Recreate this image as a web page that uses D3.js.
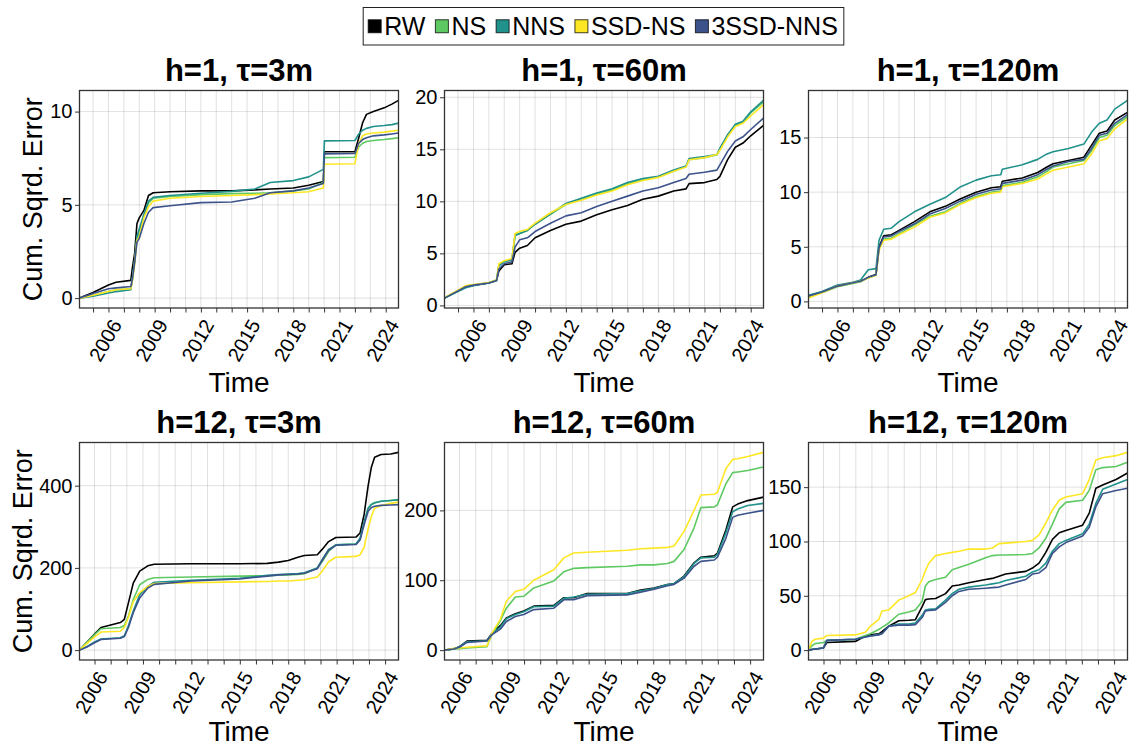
<!DOCTYPE html>
<html><head><meta charset="utf-8">
<script src="https://cdn.jsdelivr.net/npm/d3@7"></script>
<style>
body{margin:0;background:#fff}
svg{display:block}
text{font-family:"Liberation Sans", Arial, Helvetica, sans-serif;fill:#000}
</style>
</head><body>
<svg id="c" width="1131" height="747"></svg>
<script>
// ---------- data ----------
const seriesNames = ["RW", "NS", "NNS", "SSD-NS", "3SSD-NNS"];
const seriesColors = ["#000000", "#5ec962", "#21918c", "#fde725", "#3b528b"];
const panelTitles = ["h=1, τ=3m", "h=1, τ=60m", "h=1, τ=120m", "h=12, τ=3m", "h=12, τ=60m", "h=12, τ=120m"];
const xLabelYears = [2006, 2009, 2012, 2015, 2018, 2021, 2024];
const yTicks_h1_t3 = [0, 5, 10];
const yTicks_h1_t60 = [0, 5, 10, 15, 20];
const yTicks_h1_t120 = [0, 5, 10, 15];
const yTicks_h12_t3 = [0, 200, 400];
const yTicks_h12_t60 = [0, 100, 200];
const yTicks_h12_t120 = [0, 50, 100, 150];

// h=1, tau=3m
const time_h1_t3 = [2004.12, 2005.0, 2006.0, 2006.5, 2007.45, 2007.55, 2007.7, 2007.85, 2008.0, 2008.3, 2008.6, 2008.9, 2010, 2012, 2014, 2015.5, 2016.5, 2018, 2019, 2019.95, 2020.02, 2022.0, 2022.25, 2022.5, 2022.75, 2023.2, 2023.9, 2024.4, 2024.83];
const rw_h1_t3   = [0, 0.3, 0.7, 0.85, 0.95, 1.6, 2.4, 4.0, 4.3, 4.7, 5.5, 5.65, 5.7, 5.75, 5.75, 5.8, 5.85, 5.9, 6.05, 6.25, 7.85, 7.85, 8.6, 9.4, 9.85, 10.0, 10.2, 10.4, 10.6];
const ns_h1_t3   = [0, 0.15, 0.35, 0.45, 0.5, 1.0, 2.0, 3.2, 3.5, 4.4, 5.1, 5.35, 5.45, 5.55, 5.6, 5.62, 5.65, 5.75, 5.85, 6.2, 7.53, 7.55, 8.1, 8.3, 8.4, 8.45, 8.5, 8.55, 8.6];
const nns_h1_t3  = [0, 0.1, 0.27, 0.35, 0.45, 1.0, 2.0, 3.3, 3.7, 4.5, 5.2, 5.4, 5.5, 5.62, 5.72, 5.85, 6.2, 6.3, 6.5, 6.9, 8.43, 8.45, 8.8, 9.0, 9.1, 9.2, 9.25, 9.3, 9.38];
const ssd_h1_t3  = [0, 0.15, 0.35, 0.45, 0.5, 0.9, 1.8, 3.1, 3.3, 4.3, 4.9, 5.2, 5.35, 5.45, 5.5, 5.55, 5.58, 5.65, 5.7, 5.9, 7.18, 7.2, 8.3, 8.7, 8.8, 8.85, 8.9, 8.95, 9.0];
const s3_h1_t3   = [0, 0.25, 0.5, 0.55, 0.62, 1.0, 1.9, 3.0, 3.2, 4.0, 4.6, 4.85, 4.95, 5.12, 5.15, 5.35, 5.65, 5.75, 5.9, 6.15, 7.73, 7.75, 8.3, 8.5, 8.6, 8.7, 8.75, 8.8, 8.85];

// h=1, tau=60m
const time_h1_t60 = [2004.12, 2005.5, 2006, 2007, 2007.5, 2007.65, 2008.0, 2008.5, 2008.7, 2009.0, 2009.5, 2010, 2011, 2012, 2013, 2014, 2015, 2016, 2017, 2018, 2019, 2019.8, 2020.0, 2021, 2021.8, 2022.0, 2022.5, 2023, 2023.5, 2024, 2024.83];
const rw_h1_t60  = [0.7, 1.8, 1.95, 2.15, 2.4, 3.3, 3.9, 4.0, 5.1, 5.5, 5.75, 6.5, 7.2, 7.8, 8.1, 8.7, 9.2, 9.6, 10.2, 10.5, 11.0, 11.2, 11.7, 11.8, 12.1, 12.4, 14.0, 15.2, 15.6, 16.3, 17.3];
const ns_h1_t60  = [0.7, 1.8, 1.95, 2.2, 2.45, 3.9, 4.2, 4.4, 6.8, 6.9, 7.2, 7.8, 8.75, 9.7, 10.2, 10.7, 11.1, 11.7, 12.1, 12.35, 12.9, 13.35, 14.0, 14.2, 14.45, 15.0, 16.3, 17.3, 17.6, 18.5, 19.55];
const nns_h1_t60 = [0.7, 1.7, 1.9, 2.15, 2.4, 3.8, 4.2, 4.4, 6.7, 6.9, 7.2, 7.8, 8.8, 9.8, 10.3, 10.8, 11.2, 11.8, 12.2, 12.4, 13.0, 13.4, 14.1, 14.3, 14.5, 15.1, 16.4, 17.4, 17.7, 18.6, 19.7];
const ssd_h1_t60 = [0.75, 1.9, 2.0, 2.2, 2.45, 4.0, 4.3, 4.5, 6.9, 7.1, 7.3, 7.9, 8.9, 9.7, 10.1, 10.6, 11.0, 11.6, 12.0, 12.3, 12.9, 13.3, 14.0, 14.2, 14.5, 14.9, 16.2, 17.2, 17.5, 18.2, 19.3];
const s3_h1_t60  = [0.7, 1.8, 1.95, 2.15, 2.4, 3.5, 4.0, 4.2, 5.6, 6.3, 6.5, 7.1, 7.9, 8.6, 8.9, 9.5, 10.0, 10.5, 11.0, 11.3, 11.8, 12.2, 12.6, 12.8, 13.0, 13.5, 14.8, 15.8, 16.2, 16.9, 18.0];

// h=1, tau=120m
const time_h1_t120 = [2004.12, 2005, 2006, 2007, 2007.5, 2008.0, 2008.5, 2008.7, 2009.0, 2009.5, 2010, 2011, 2012, 2013, 2014, 2015, 2016, 2016.6, 2016.7, 2018, 2019, 2019.6, 2020, 2021, 2022, 2022.5, 2023, 2023.5, 2024, 2024.83];
const rw_h1_t120  = [0.5, 0.85, 1.4, 1.7, 1.85, 2.2, 2.45, 5.0, 6.0, 6.1, 6.5, 7.3, 8.2, 8.7, 9.4, 10.0, 10.4, 10.5, 11.0, 11.3, 11.8, 12.3, 12.6, 12.9, 13.2, 14.3, 15.4, 15.6, 16.6, 17.3];
const ns_h1_t120  = [0.45, 0.8, 1.35, 1.65, 1.8, 2.15, 2.4, 4.8, 5.7, 5.8, 6.2, 7.0, 7.8, 8.2, 9.0, 9.6, 10.0, 10.1, 10.6, 10.9, 11.4, 11.9, 12.3, 12.6, 12.9, 13.8, 15.0, 15.2, 16.1, 16.9];
const nns_h1_t120 = [0.55, 0.9, 1.5, 1.75, 1.95, 2.9, 3.0, 5.6, 6.6, 6.7, 7.3, 8.2, 8.9, 9.5, 10.5, 11.1, 11.5, 11.6, 12.1, 12.5, 13.0, 13.5, 13.7, 14.0, 14.4, 15.5, 16.3, 16.6, 17.6, 18.4];
const ssd_h1_t120 = [0.3, 0.8, 1.4, 1.7, 1.85, 2.15, 2.4, 4.7, 5.6, 5.7, 6.1, 6.8, 7.7, 8.1, 8.9, 9.5, 9.9, 10.0, 10.5, 10.8, 11.2, 11.7, 12.0, 12.3, 12.6, 13.5, 14.7, 14.9, 15.8, 16.7];
const s3_h1_t120  = [0.5, 0.85, 1.4, 1.7, 1.85, 2.2, 2.45, 4.9, 5.9, 6.0, 6.4, 7.1, 8.0, 8.5, 9.2, 9.8, 10.2, 10.3, 10.8, 11.1, 11.6, 12.1, 12.4, 12.8, 13.0, 14.0, 15.2, 15.4, 16.3, 17.1];

// h=12, tau=3m
const time_h12_t3 = [2005.07, 2005.5, 2006.0, 2006.4, 2007.6, 2007.85, 2008.1, 2008.4, 2008.8, 2009.3, 2009.7, 2012, 2015, 2016.7, 2017.4, 2018.0, 2018.6, 2019.0, 2019.8, 2020.1, 2020.5, 2020.95, 2022.2, 2022.45, 2022.7, 2022.95, 2023.15, 2023.35, 2023.75, 2024.35, 2024.83];
const rw_h12_t3  = [0, 18, 39, 55, 67, 75, 115, 163, 192, 205, 209, 210, 210, 211, 214, 218, 226, 230, 232, 245, 264, 274, 275, 285, 330, 400, 445, 469, 476, 477, 481];
const ns_h12_t3  = [0, 18, 38, 52, 55, 60, 83, 123, 159, 172, 176, 178, 180, 181, 182, 183, 184, 186, 200, 215, 240, 256, 258, 270, 310, 345, 355, 359, 362, 364, 365];
const nns_h12_t3 = [0, 8, 20, 27, 30, 35, 59, 95, 135, 155, 165, 170, 175, 182, 184, 185, 186, 188, 200, 220, 245, 256, 258, 272, 312, 345, 354, 358, 362, 364, 366];
const ssd_h12_t3 = [0, 15, 32, 44, 46, 55, 80, 118, 140, 155, 162, 164, 166, 167, 168, 168, 170, 171, 178, 192, 215, 226, 228, 232, 250, 295, 325, 345, 352, 357, 360];
const s3_h12_t3  = [0, 7, 18, 26, 29, 33, 55, 91, 127, 151, 160, 168, 173, 180, 183, 184, 185, 187, 198, 218, 243, 255, 257, 268, 305, 338, 347, 350, 352, 353, 354];

// h=12, tau=60m
const time_h12_t60 = [2005.07, 2005.63, 2006.0, 2006.46, 2007.7, 2008.0, 2008.53, 2008.9, 2009.46, 2009.98, 2010.6, 2011.84, 2012.46, 2013.08, 2013.9, 2016.39, 2017.22, 2018.05, 2018.88, 2019.29, 2019.91, 2020.53, 2020.95, 2021.78, 2021.98, 2022.5, 2022.92, 2023.23, 2023.85, 2024.83];
const rw_h12_t60  = [0, 1.5, 5, 13, 14, 24, 35, 46, 52, 56, 63, 64, 75, 75, 81, 81, 86, 89, 94, 95, 106, 125, 133, 135, 139, 172, 205, 209, 214, 219];
const ns_h12_t60  = [0, 1.5, 2, 3, 5, 22, 42, 60, 76, 77, 89, 99, 112, 117, 118, 120, 122, 122, 124, 127, 144, 175, 204, 205, 208, 238, 254, 255, 257, 262];
const nns_h12_t60 = [0, 1.5, 5, 12, 13.5, 23, 33, 45, 51, 55, 62, 63, 74, 76, 80, 81, 85, 88, 94, 95, 105, 124, 132, 133, 137, 168, 198, 202, 207, 210];
const ssd_h12_t60 = [0, 2.5, 3, 4, 6, 24, 44, 70, 84, 87, 100, 115, 132, 139, 140, 143, 145, 146, 147, 149, 170, 200, 222, 223, 226, 260, 273, 274, 277, 283];
const s3_h12_t60  = [0, 1.5, 4, 11, 13, 22, 30, 41, 48, 51, 58, 60, 72, 72, 78, 79, 83, 87, 92, 94, 103, 120, 127, 129, 133, 160, 190, 193, 196, 200];

// h=12, tau=120m
const time_h12_t120 = [2005.07, 2005.28, 2005.48, 2006.0, 2006.21, 2007.97, 2008.59, 2008.9, 2009.42, 2009.62, 2010.04, 2010.66, 2011.28, 2011.69, 2012.11, 2012.31, 2012.52, 2012.94, 2013.56, 2013.97, 2014.39, 2015.0, 2016.04, 2016.46, 2016.87, 2017.28, 2018.53, 2018.94, 2019.35, 2019.77, 2020.18, 2020.6, 2021.01, 2022.05, 2022.46, 2022.87, 2023.29, 2024.12, 2024.83];
const rw_h12_t120  = [0, 0.5, 1, 2, 7, 8, 13, 14, 15, 17, 22, 27, 27.5, 28, 40, 46.5, 47, 47.5, 52, 59, 60, 62, 65, 66, 68, 70, 72.5, 75.5, 80, 90, 102, 108, 110, 115, 126, 149, 152, 157, 163];
const ns_h12_t120  = [0, 4, 6, 7, 9, 10, 13.5, 15, 19, 21, 25, 33, 35, 37, 45, 59, 63, 65, 67, 74, 76, 79, 85, 87, 87.5, 87.5, 88, 89, 94, 103, 116, 130, 136, 138, 147, 166, 168, 169, 173];
const nns_h12_t120 = [0, 0.5, 1, 2, 9, 10, 12, 13, 14.5, 15, 22, 24, 24, 25, 32, 37, 37.5, 38, 46, 52, 56, 58, 60, 61, 62, 64, 68, 72, 74, 80, 91, 98, 101, 107, 116, 135, 148, 153, 157];
const ssd_h12_t120 = [0, 8, 10, 11, 13.5, 14, 16.5, 22, 28, 36, 37, 46, 50, 53, 65, 73, 80, 87, 89, 90, 91, 93, 93, 94, 98, 98.5, 100, 101, 106, 117, 129, 138, 141, 144, 157, 175, 177, 179, 182];
const s3_h12_t120  = [0, 0.5, 1, 2, 9, 10, 12, 13, 14, 15, 22, 23, 23, 23.5, 30, 36, 36.5, 37, 44, 50, 54, 56, 57, 57.5, 58, 60, 65, 70, 71, 76, 89, 95, 99, 105, 113, 132, 144, 147, 149];

// ---------- layout ----------
const colLeft = [79.5, 444.5, 808.5];
const rowTop = [90.5, 442.5];
const yLabelX = [42, 32];
const xLabelOffset = [84, 80.5];
const plotW = 319, plotH = 217.5;
const FONT = '"Liberation Sans", Arial, Helvetica, sans-serif';

const panels = [
  {t: time_h1_t3,   ys: [rw_h1_t3, ns_h1_t3, nns_h1_t3, ssd_h1_t3, s3_h1_t3], yt: yTicks_h1_t3},
  {t: time_h1_t60,  ys: [rw_h1_t60, ns_h1_t60, nns_h1_t60, ssd_h1_t60, s3_h1_t60], yt: yTicks_h1_t60},
  {t: time_h1_t120, ys: [rw_h1_t120, ns_h1_t120, nns_h1_t120, ssd_h1_t120, s3_h1_t120], yt: yTicks_h1_t120},
  {t: time_h12_t3,  ys: [rw_h12_t3, ns_h12_t3, nns_h12_t3, ssd_h12_t3, s3_h12_t3], yt: yTicks_h12_t3},
  {t: time_h12_t60, ys: [rw_h12_t60, ns_h12_t60, nns_h12_t60, ssd_h12_t60, s3_h12_t60], yt: yTicks_h12_t60},
  {t: time_h12_t120,ys: [rw_h12_t120, ns_h12_t120, nns_h12_t120, ssd_h12_t120, s3_h12_t120], yt: yTicks_h12_t120}
];

const svg = d3.select("#c");
svg.append("rect").attr("width", 1131).attr("height", 747).attr("fill", "#fff");
const defs = svg.append("defs");

panels.forEach((p, i) => {
  const r = Math.floor(i / 3), c = i % 3;
  const x0 = colLeft[c], y0 = rowTop[r];
  const x = d3.scaleLinear().domain([p.t[0], p.t[p.t.length - 1]]).range([x0, x0 + plotW]);
  const all = p.ys.flat();
  const mn = d3.min(all), mx = d3.max(all), pad = (mx - mn) * 0.05;
  const y = d3.scaleLinear().domain([mn - pad, mx + pad]).range([y0 + plotH, y0]);
  const g = svg.append("g");

  const years = d3.range(Math.ceil(p.t[0]), Math.floor(p.t[p.t.length - 1]) + 1);

  // grid
  g.append("g").selectAll("line").data(years).join("line")
    .attr("x1", d => x(d)).attr("x2", d => x(d))
    .attr("y1", y0).attr("y2", y0 + plotH)
    .attr("stroke", "rgba(0,0,0,0.12)").attr("stroke-width", 1);
  g.append("g").selectAll("line").data(p.yt).join("line")
    .attr("x1", x0).attr("x2", x0 + plotW)
    .attr("y1", d => y(d)).attr("y2", d => y(d))
    .attr("stroke", "rgba(0,0,0,0.12)").attr("stroke-width", 1);

  // lines
  const cid = "clip" + i;
  defs.append("clipPath").attr("id", cid).append("rect")
    .attr("x", x0).attr("y", y0).attr("width", plotW).attr("height", plotH);
  const line = d3.line().x((d, k) => x(p.t[k])).y(d => y(d));
  const lg = g.append("g").attr("clip-path", `url(#${cid})`);
  p.ys.forEach((vals, s) => {
    lg.append("path").attr("d", line(vals)).attr("fill", "none")
      .attr("stroke", seriesColors[s]).attr("stroke-width", 1.6)
      .attr("stroke-linejoin", "round");
  });

  // frame
  g.append("rect").attr("x", x0).attr("y", y0).attr("width", plotW).attr("height", plotH)
    .attr("fill", "none").attr("stroke", "#333").attr("stroke-width", 1.3);

  // x axis
  const xa = g.append("g").attr("transform", `translate(0,${y0 + plotH})`)
    .call(d3.axisBottom(x).tickValues(years).tickSize(4.5)
      .tickFormat(d => xLabelYears.includes(d) ? String(d) : ""));
  xa.select(".domain").remove();
  xa.selectAll(".tick line").attr("stroke", "#333").attr("stroke-width", 1);
  xa.selectAll(".tick text")
    .attr("font-family", FONT).attr("font-size", 20).attr("fill", "#000")
    .attr("text-anchor", "end").attr("x", 0).attr("y", 0).attr("dy", null)
    .attr("transform", "translate(13.5,16.5) rotate(-60)");

  // y axis
  const ya = g.append("g").attr("transform", `translate(${x0},0)`)
    .call(d3.axisLeft(y).tickValues(p.yt).tickSize(4.5).tickPadding(2.5));
  ya.select(".domain").remove();
  ya.selectAll(".tick line").attr("stroke", "#333").attr("stroke-width", 1);
  ya.selectAll(".tick text").attr("font-family", FONT).attr("font-size", 20).attr("fill", "#000");

  // title
  g.append("text").attr("x", x0 + plotW / 2).attr("y", y0 - 10)
    .attr("text-anchor", "middle").attr("font-weight", "bold").attr("font-size", 31)
    .text(panelTitles[i]);

  // x label
  g.append("text").attr("x", x0 + plotW / 2).attr("y", y0 + plotH + xLabelOffset[r])
    .attr("text-anchor", "middle").attr("font-size", 28).text("Time");

  // y label
  if (c === 0) {
    g.append("text").attr("transform", `translate(${yLabelX[r]},${y0 + plotH / 2}) rotate(-90)`)
      .attr("text-anchor", "middle").attr("font-size", 27).text("Cum. Sqrd. Error");
  }
});

// ---------- legend ----------
const legG = svg.append("g");
const box = legG.append("rect");
const leg = legG.append("g");
const sq = 13, gapIn = 3, gapOut = 10, padL = 5, padR = 6;
let cx = 0;
seriesNames.forEach((n, s) => {
  const it = leg.append("g");
  it.append("rect").attr("x", 0).attr("y", -sq / 2).attr("width", sq).attr("height", sq)
    .attr("fill", seriesColors[s]).attr("stroke", "rgba(0,0,0,0.75)").attr("stroke-width", 1);
  const tx = it.append("text").attr("x", sq + gapIn).attr("y", 0).attr("dy", "0.36em")
    .attr("font-size", 25).text(n);
  const w = sq + gapIn + tx.node().getComputedTextLength();
  it.attr("transform", `translate(${cx},0)`);
  cx += w + gapOut;
});
const innerW = cx - gapOut;
const boxW = innerW + padL + padR;
const centerX = (colLeft[0] + colLeft[2] + plotW) / 2;
const bx = centerX - boxW / 2, by = 7.5, bh = 37.5;
leg.attr("transform", `translate(${bx + padL},${by + bh / 2})`);
box.attr("x", bx).attr("y", by).attr("width", boxW).attr("height", bh)
  .attr("fill", "#fff").attr("stroke", "#222").attr("stroke-width", 1);
</script>
</body></html>
